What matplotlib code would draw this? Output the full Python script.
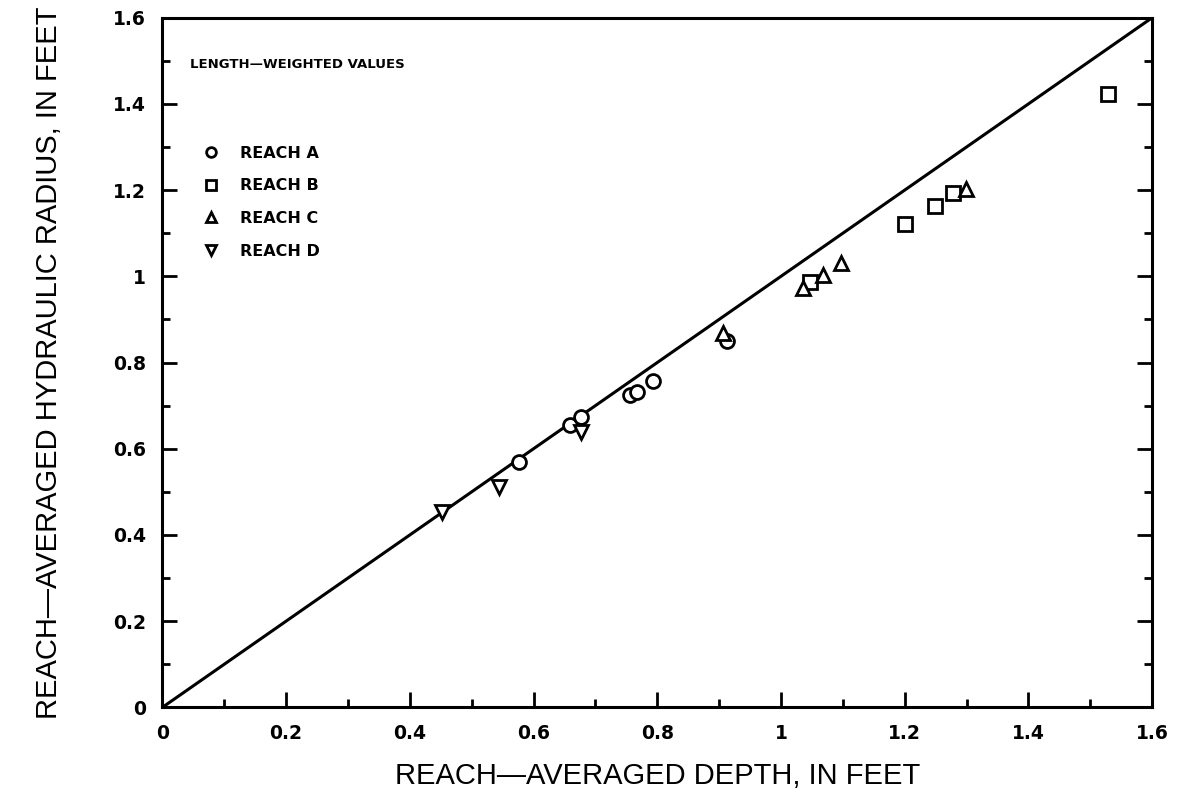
import matplotlib
matplotlib.use("Agg")
import matplotlib.pyplot as plt

# reach-averaged depth (x) and hydraulic radius (y), in feet
reach_a_x = [0.577, 0.659, 0.677, 0.756, 0.767, 0.793, 0.913]
reach_a_y = [0.569, 0.655, 0.673, 0.725, 0.732, 0.757, 0.850]
reach_b_x = [1.047, 1.200, 1.249, 1.278, 1.528]
reach_b_y = [0.987, 1.122, 1.163, 1.194, 1.424]
reach_c_x = [0.906, 1.036, 1.068, 1.097, 1.299]
reach_c_y = [0.868, 0.973, 1.003, 1.031, 1.203]
reach_d_x = [0.452, 0.544, 0.677]
reach_d_y = [0.453, 0.511, 0.639]
one_to_one = [0, 1.6]
ticks = [0, 0.2, 0.4, 0.6, 0.8, 1, 1.2, 1.4, 1.6]
tick_labels = ["0", "0.2", "0.4", "0.6", "0.8", "1", "1.2", "1.4", "1.6"]

fig = plt.figure(figsize=(11.94, 8.02), dpi=100)
ax = fig.add_axes([0.136, 0.118, 0.829, 0.860])

ax.plot(one_to_one, one_to_one, color="black", lw=2.2, zorder=1)

mk = dict(ls="none", mfc="white", mec="black", mew=2.0, ms=10, zorder=3)
ax.plot(reach_a_x, reach_a_y, marker="o", label="REACH A", **mk)
ax.plot(reach_b_x, reach_b_y, marker="s", label="REACH B", **mk)
ax.plot(reach_c_x, reach_c_y, marker="^", label="REACH C", **mk)
ax.plot(reach_d_x, reach_d_y, marker="v", label="REACH D", **mk)

ax.set_xlim(0, 1.6)
ax.set_ylim(0, 1.6)
ax.set_xticks(ticks)
ax.set_yticks(ticks)
ax.set_xticklabels(tick_labels)
ax.set_yticklabels(tick_labels)
ax.set_xticks([0.1, 0.3, 0.5, 0.7, 0.9, 1.1, 1.3, 1.5], minor=True)
ax.set_yticks([0.1, 0.3, 0.5, 0.7, 0.9, 1.1, 1.3, 1.5], minor=True)
ax.tick_params(which="both", direction="in", right=True, width=2)
ax.tick_params(which="major", length=11, labelsize=13.5, pad=12)
ax.tick_params(which="minor", length=6)
for lab in ax.get_xticklabels() + ax.get_yticklabels():
    lab.set_fontweight("bold")
for s in ax.spines.values():
    s.set_linewidth(2.2)

lblfont = dict(family=["Liberation Sans", "DejaVu Sans"], fontsize=21)
ax.set_xlabel("REACH\u2014AVERAGED DEPTH, IN FEET", labelpad=14, **lblfont)
ax.set_ylabel("REACH\u2014AVERAGED HYDRAULIC RADIUS, IN FEET", labelpad=36, **lblfont)

ax.text(0.044, 1.491, "LENGTH\u2014WEIGHTED VALUES", fontsize=9.5, fontweight="bold",
        va="center", ha="left")
leg = ax.legend(loc="upper left", bbox_to_anchor=(0.025, 0.835), frameon=False,
                prop=dict(weight="bold", size=11.5), markerscale=0.7,
                labelspacing=1.1, handletextpad=1.2, handlelength=1.2)

fig.savefig("out.png", dpi=100)
